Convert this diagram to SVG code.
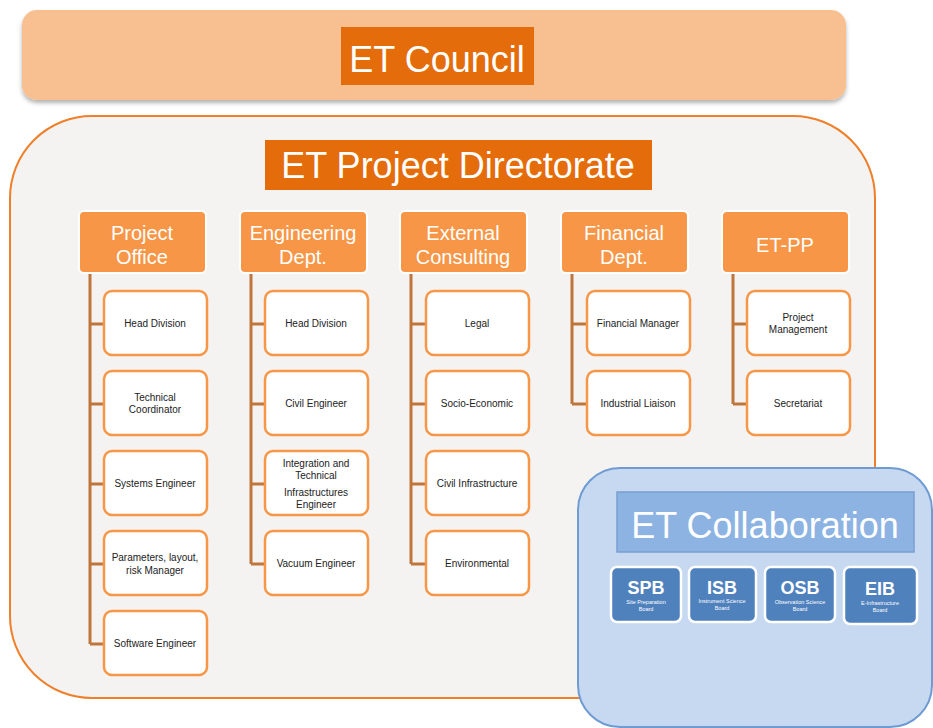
<svg xmlns="http://www.w3.org/2000/svg" width="933" height="728" viewBox="0 0 933 728">
<defs>
<filter id="sh" x="-5%" y="-10%" width="110%" height="130%"><feDropShadow dx="0" dy="3" stdDeviation="2" flood-color="#000" flood-opacity="0.3"/></filter>
<style>
text{font-family:"Liberation Sans","Open Sans",Arial,sans-serif;text-anchor:middle}
.hd{fill:#F79646;stroke:#fff;stroke-width:2}
.hdt{fill:#fff;font-size:20px}
.ch{fill:#fff;stroke:#F79646;stroke-width:2.5}
.cht{fill:#222;font-size:10px}
.cn{stroke:#C0763A;stroke-width:3;fill:none}
.bd{fill:#4F81BD;stroke:#fff;stroke-width:2.5}
.bdt{fill:#fff;font-size:18px;font-weight:bold}
.bds{fill:#fff;font-size:5.5px}
</style>
</defs>
<g id="council">
<rect x="22" y="10" width="824" height="90" rx="15" fill="#F8C091" filter="url(#sh)"/>
<rect x="341" y="27" width="193" height="58" fill="#E46C0A"/>
<text x="437" y="72" fill="#fff" font-size="36">ET Council</text>
</g>
<g id="directorate">
<rect x="10" y="116" width="865" height="582" rx="82" fill="#F4F3F2" stroke="#F07F2A" stroke-width="2"/>
<rect x="265" y="140" width="387" height="50" fill="#E46C0A"/>
<text x="458" y="178" fill="#fff" font-size="36">ET Project Directorate</text>
</g>
<g id="connectors">
<path class="cn" d="M90 272V644M90 324H104M90 404H104M90 484H104M90 564H104M90 644H104"/>
<path class="cn" d="M251 272V564M251 324H265M251 404H265M251 484H265M251 564H265"/>
<path class="cn" d="M411 272V564M411 324H426M411 404H426M411 484H426M411 564H426"/>
<path class="cn" d="M572 272V404M572 324H587M572 404H587"/>
<path class="cn" d="M733 272V404M733 324H747M733 404H747"/>
</g>
<g id="project-office">
<rect class="hd" x="79" y="211" width="127" height="62" rx="5"/>
<text class="hdt" x="142" y="240">Project</text><text class="hdt" x="142" y="264">Office</text>
</g>
<g id="po-head"><rect class="ch" x="104" y="291" width="103" height="64" rx="8"/><text class="cht" x="155" y="327">Head Division</text></g>
<g id="po-tech"><rect class="ch" x="104" y="371" width="103" height="64" rx="8"/><text class="cht" x="155" y="401">Technical</text><text class="cht" x="155" y="413">Coordinator</text></g>
<g id="po-sys"><rect class="ch" x="104" y="451" width="103" height="64" rx="8"/><text class="cht" x="155" y="487">Systems Engineer</text></g>
<g id="po-param"><rect class="ch" x="104" y="531" width="103" height="64" rx="8"/><text class="cht" x="155" y="561">Parameters, layout,</text><text class="cht" x="155" y="574">risk Manager</text></g>
<g id="po-soft"><rect class="ch" x="104" y="611" width="103" height="64" rx="8"/><text class="cht" x="155" y="647">Software Engineer</text></g>

<g id="engineering">
<rect class="hd" x="240" y="211" width="127" height="62" rx="5"/>
<text class="hdt" x="303" y="240">Engineering</text><text class="hdt" x="303" y="264">Dept.</text>
</g>
<g id="en-head"><rect class="ch" x="265" y="291" width="103" height="64" rx="8"/><text class="cht" x="316" y="327">Head Division</text></g>
<g id="en-civil"><rect class="ch" x="265" y="371" width="103" height="64" rx="8"/><text class="cht" x="316" y="407">Civil Engineer</text></g>
<g id="en-integ"><rect class="ch" x="265" y="451" width="103" height="64" rx="8"/><text class="cht" x="316" y="467">Integration and</text><text class="cht" x="316" y="479">Technical</text><text class="cht" x="316" y="496">Infrastructures</text><text class="cht" x="316" y="508">Engineer</text></g>
<g id="en-vac"><rect class="ch" x="265" y="531" width="103" height="64" rx="8"/><text class="cht" x="316" y="567">Vacuum Engineer</text></g>

<g id="external">
<rect class="hd" x="400" y="211" width="127" height="62" rx="5"/>
<text class="hdt" x="463" y="240">External</text><text class="hdt" x="463" y="264">Consulting</text>
</g>
<g id="ex-legal"><rect class="ch" x="426" y="291" width="103" height="64" rx="8"/><text class="cht" x="477" y="327">Legal</text></g>
<g id="ex-socio"><rect class="ch" x="426" y="371" width="103" height="64" rx="8"/><text class="cht" x="477" y="407">Socio-Economic</text></g>
<g id="ex-civil"><rect class="ch" x="426" y="451" width="103" height="64" rx="8"/><text class="cht" x="477" y="487">Civil Infrastructure</text></g>
<g id="ex-env"><rect class="ch" x="426" y="531" width="103" height="64" rx="8"/><text class="cht" x="477" y="567">Environmental</text></g>

<g id="financial">
<rect class="hd" x="561" y="211" width="127" height="62" rx="5"/>
<text class="hdt" x="624" y="240">Financial</text><text class="hdt" x="624" y="264">Dept.</text>
</g>
<g id="fi-man"><rect class="ch" x="587" y="291" width="103" height="64" rx="8"/><text class="cht" x="638" y="327">Financial Manager</text></g>
<g id="fi-ind"><rect class="ch" x="587" y="371" width="103" height="64" rx="8"/><text class="cht" x="638" y="407">Industrial Liaison</text></g>

<g id="etpp">
<rect class="hd" x="722" y="211" width="127" height="62" rx="5"/>
<text class="hdt" x="785" y="252">ET-PP</text>
</g>
<g id="pp-pm"><rect class="ch" x="747" y="291" width="103" height="64" rx="8"/><text class="cht" x="798" y="321">Project</text><text class="cht" x="798" y="333">Management</text></g>
<g id="pp-sec"><rect class="ch" x="747" y="371" width="103" height="64" rx="8"/><text class="cht" x="798" y="407">Secretariat</text></g>

<g id="collaboration">
<rect x="578" y="468" width="354" height="259" rx="42" fill="#C6D9F1" stroke="#6F9BD3" stroke-width="2"/>
<rect x="617" y="492" width="297" height="60" fill="#8DB3E2" stroke="#7A9FD0" stroke-width="1.5"/>
<text x="765" y="538" fill="#fff" font-size="36">ET Collaboration</text>
</g>
<g id="spb"><rect class="bd" x="611" y="567" width="70" height="55" rx="6"/><text class="bdt" x="646" y="594">SPB</text><text class="bds" x="646" y="604">Site Preparation</text><text class="bds" x="646" y="611">Board</text></g>
<g id="isb"><rect class="bd" x="689" y="567" width="67" height="55" rx="6"/><text class="bdt" x="722" y="594">ISB</text><text class="bds" x="722" y="603">Instrument Science</text><text class="bds" x="722" y="610">Board</text></g>
<g id="osb"><rect class="bd" x="765" y="567" width="70" height="55" rx="6"/><text class="bdt" x="800" y="594">OSB</text><text class="bds" x="800" y="604">Observation Science</text><text class="bds" x="800" y="611">Board</text></g>
<g id="eib"><rect class="bd" x="844" y="567" width="73" height="57" rx="6"/><text class="bdt" x="880" y="595">EIB</text><text class="bds" x="880" y="605">E-Infrastructure</text><text class="bds" x="880" y="612">Board</text></g>
</svg>
